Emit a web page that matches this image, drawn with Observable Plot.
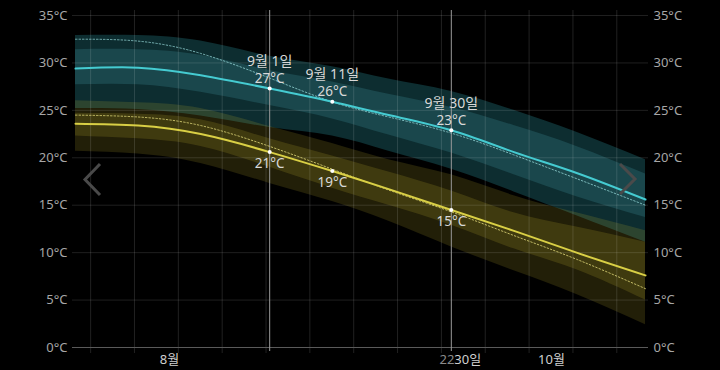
<!DOCTYPE html>
<html>
<head>
<meta charset="utf-8">
<script src="https://cdn.jsdelivr.net/npm/d3@7"></script>
<script src="https://cdn.jsdelivr.net/npm/@observablehq/plot@0.6"></script>
<style>
  html, body { margin: 0; padding: 0; background: #000; }
  #wrap { position: relative; width: 720px; height: 370px; background: #000; }
  #nav { position: absolute; left: 0; top: 0; pointer-events: none; }
</style>
</head>
<body>
<div id="wrap"></div>
<script>
// ---- data ----
const dates = ["2023-08-01","2023-08-11","2023-08-21","2023-09-01","2023-09-11","2023-09-20","2023-09-30","2023-10-10","2023-10-20","2023-10-31"];

// daily high temperature (teal)
const hiMean    = [29.4, 29.5, 28.7, 27.3, 25.9, 24.5, 22.9, 20.6, 18.4, 15.6];
const hiDotted  = [32.5, 32.3, 31.0, 28.4, 25.9, 24.3, 22.6, 20.3, 17.8, 15.0];
const hiInnerHi = [31.4, 31.4, 30.8, 29.2, 28.0, 26.7, 25.3, 23.4, 21.2, 18.3];
const hiInnerLo = [27.7, 27.7, 26.9, 25.5, 24.1, 22.4, 20.5, 18.2, 15.9, 13.7];
const hiOuterHi = [32.9, 32.9, 32.3, 30.7, 29.6, 28.3, 27.0, 25.0, 22.7, 19.8];
const hiOuterLo = [25.2, 25.1, 24.4, 23.2, 22.3, 20.7, 18.8, 16.4, 13.9, 11.1];

// daily low temperature (yellow)
const loMean    = [23.6, 23.4, 22.5, 20.6, 18.6, 16.7, 14.5, 12.3, 10.0, 7.6];
const loDotted  = [24.5, 24.3, 23.4, 21.2, 18.8, 16.6, 14.3, 11.8, 9.3, 6.2];
const loInnerHi = [24.7, 24.6, 24.0, 22.0, 20.2, 18.5, 16.5, 14.2, 12.7, 11.1];
const loInnerLo = [22.3, 22.0, 21.2, 19.0, 16.8, 15.0, 12.9, 10.4, 8.2, 5.0];
const loOuterHi = [26.0, 25.8, 25.2, 23.3, 21.5, 19.8, 18.2, 16.0, 14.2, 12.3];
const loOuterLo = [20.7, 20.4, 19.4, 17.3, 15.4, 13.3, 10.6, 8.1, 5.6, 2.4];

// annotations
const annDates     = ["2023-09-01","2023-09-11","2023-09-30"];
const annDateText  = ["9월 1일","9월 11일","9월 30일"];
const annHigh      = [27.3, 25.9, 22.9];
const annHighText  = ["27°C","26°C","23°C"];
const annLow       = [20.6, 18.6, 14.5];
const annLowText   = ["21°C","19°C","15°C"];
const highlightDates = ["2023-09-01","2023-09-30"];

// axes
const yTicks = [0, 5, 10, 15, 20, 25, 30, 35];
const xLabelDates = ["2023-08-16","2023-09-30","2023-10-16"];
const xLabels     = ["8월","30일","10월"];
const xDomain = ["2023-08-01","2023-10-31"];
const gridStart = "2023-08-03T10:00:00Z";
const gridWeeks = 13;

// ---- build tables ----
const P = s => new Date(s.length > 10 ? s : s + "T00:00:00Z");
const rows = dates.map((d, i) => ({
  date: P(d),
  hiMean: hiMean[i], hiDotted: hiDotted[i],
  hiInnerHi: hiInnerHi[i], hiInnerLo: hiInnerLo[i],
  hiOuterHi: hiOuterHi[i], hiOuterLo: hiOuterLo[i],
  loMean: loMean[i], loDotted: loDotted[i],
  loInnerHi: loInnerHi[i], loInnerLo: loInnerLo[i],
  loOuterHi: loOuterHi[i], loOuterLo: loOuterLo[i]
}));
const ann = annDates.map((d, i) => ({
  date: P(d), label: annDateText[i],
  hi: annHigh[i], hiText: annHighText[i],
  lo: annLow[i], loText: annLowText[i]
}));
const gridDates = d3.range(gridWeeks).map(k => d3.utcDay.offset(P(gridStart), 7 * k));
const xLab = xLabelDates.map((d, i) => ({date: P(d), label: xLabels[i]}));

const curve = "natural";
const teal = "#45cbd1";
const yellow = "#d9cf45";

const chart = Plot.plot({
  width: 720,
  height: 370,
  marginLeft: 75,
  marginRight: 75,
  marginTop: 15,
  marginBottom: 23,
  style: {background: "#000", color: "#a6a6a6", fontFamily: "'Noto Sans', 'Noto Sans CJK KR', sans-serif", fontSize: "13px"},
  x: {type: "utc", domain: xDomain.map(P), axis: null},
  y: {domain: [0, 35], axis: null},
  marks: [
    // teal (high) bands
    Plot.areaY(rows, {x: "date", y1: "hiOuterLo", y2: "hiOuterHi", fill: "#0d2d30", curve}),
    Plot.areaY(rows, {x: "date", y1: "hiInnerLo", y2: "hiInnerHi", fill: "#1a474c", curve}),
    // yellow (low) bands
    Plot.areaY(rows, {x: "date", y1: "loOuterLo", y2: "loOuterHi", fill: "#c8b832", fillOpacity: 0.17, curve}),
    Plot.areaY(rows, {x: "date", y1: "loInnerLo", y2: "loInnerHi", fill: "#c8b832", fillOpacity: 0.18, curve}),
    // grid
    Plot.ruleY(yTicks.filter(d => d > 0), {stroke: "#fff", strokeOpacity: 0.12, insetLeft: -3, insetRight: -3}),
    Plot.ruleX(gridDates, {stroke: "#fff", strokeOpacity: 0.13, insetTop: -5, insetBottom: -6}),
    Plot.ruleY([0], {stroke: "#5a5a5a", insetLeft: -3, insetRight: -3}),
    Plot.ruleX(highlightDates.map(P), {stroke: "#9a9a9a", strokeWidth: 1, insetTop: -5, insetBottom: -4}),
    // lines
    Plot.lineY(rows, {x: "date", y: "hiDotted", stroke: "#9adcdc", strokeWidth: 1, strokeDasharray: "1.5,2", strokeOpacity: 0.75, curve}),
    Plot.lineY(rows, {x: "date", y: "loDotted", stroke: "#ece482", strokeWidth: 1, strokeDasharray: "1.5,2", strokeOpacity: 0.75, curve}),
    Plot.lineY(rows, {x: "date", y: "hiMean", stroke: teal, strokeWidth: 2, curve}),
    Plot.lineY(rows, {x: "date", y: "loMean", stroke: yellow, strokeWidth: 2, curve}),
    // axes
    Plot.axisY(yTicks, {anchor: "left", tickSize: 0, tickPadding: 8, tickFormat: d => `${d}°C`, fontSize: 13, label: null}),
    Plot.axisY(yTicks, {anchor: "right", tickSize: 0, tickPadding: 8, tickFormat: d => `${d}°C`, fontSize: 13, label: null}),
    Plot.text([xLab[0], xLab[2]], {x: "date", y: () => 0, text: "label", dy: 12, fill: "#cfcfcf", fontSize: 13}),
    Plot.text([xLab[1]], {x: "date", y: () => 0, text: "label", dy: 12, dx: 3, textAnchor: "start", fill: "#cfcfcf", fontSize: 13}),
    Plot.text([xLab[1]], {x: "date", y: () => 0, text: () => "22", dy: 12, dx: 3, textAnchor: "end", fill: "#8a8a8a", fontSize: 13}),
    // annotations
    Plot.dot(ann, {x: "date", y: "hi", r: 2, fill: "#fff"}),
    Plot.dot(ann, {x: "date", y: "lo", r: 2, fill: "#fff"}),
    Plot.text(ann, {x: "date", y: "hi", text: "label", dy: -27, fill: "#d8d8d8", fontSize: 14}),
    Plot.text(ann, {x: "date", y: "hi", text: "hiText", dy: -10, fill: "#d8d8d8", fontSize: 13.5}),
    Plot.text(ann, {x: "date", y: "lo", text: "loText", dy: 12, fill: "#d8d8d8", fontSize: 13.5})
  ]
});

const wrap = document.getElementById("wrap");
wrap.appendChild(chart);

// navigation chevrons (UI decoration)
const ns = "http://www.w3.org/2000/svg";
const nav = document.createElementNS(ns, "svg");
nav.setAttribute("id", "nav");
nav.setAttribute("width", 720);
nav.setAttribute("height", 370);
[["100,164 85,179.5 100,195"], ["620,164 635,179 620,194"]].forEach(([pts]) => {
  const pl = document.createElementNS(ns, "polyline");
  pl.setAttribute("points", pts);
  pl.setAttribute("fill", "none");
  pl.setAttribute("stroke", "#4a4a4a");
  pl.setAttribute("stroke-width", 3);
  nav.appendChild(pl);
});
wrap.appendChild(nav);
</script>
</body>
</html>
